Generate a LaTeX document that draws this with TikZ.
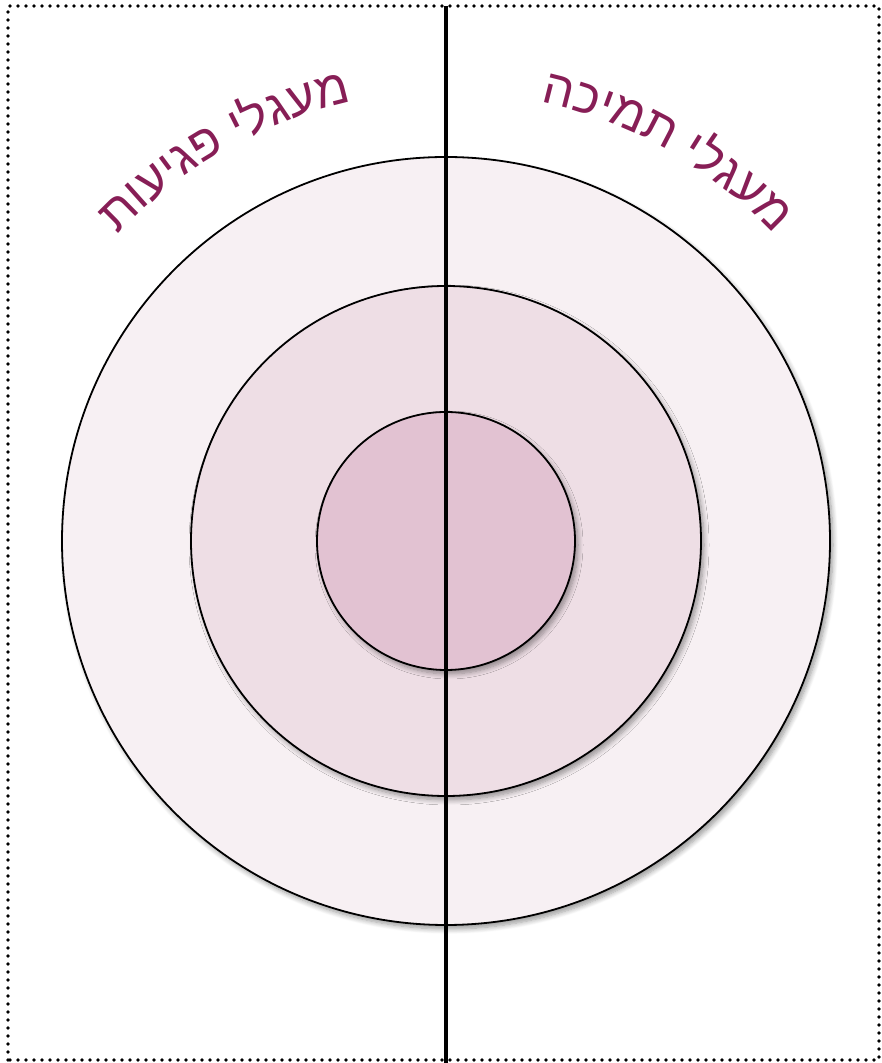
\documentclass[tikz,border=0pt]{standalone}
\usepackage{fontspec}
\newfontfamily\hebfont[Script=Hebrew]{Liberation Sans}
\usetikzlibrary{decorations.text,shadows.blur}
\definecolor{txtc}{RGB}{135,30,86}
\definecolor{cone}{RGB}{247,240,243}
\definecolor{ctwo}{RGB}{238,222,229}
\definecolor{cthree}{RGB}{226,194,210}
\begin{document}
\begin{tikzpicture}[x=1pt,y=1pt,
  ring/.style={circle, draw=black, line width=1.8pt, inner sep=0pt,
    blur shadow={shadow xshift=3pt, shadow yshift=-4pt, shadow blur steps=8, shadow blur radius=5pt, shadow opacity=40}},
  frameline/.style={line width=3.6pt, dash pattern=on 0pt off 8pt, line cap=round},
  divider/.style={line width=3.3pt},
  arctext/.style={decorate, decoration={text along path, text align=center, text color=txtc,
    text={|\hebfont\fontsize{49}{49}\selectfont|#1}}}]
\useasboundingbox (0,0) rectangle (882,1063);
\node[ring, fill=cone, minimum size=768pt] (outer) at (446,522) {};
\node[ring, fill=ctwo, minimum size=510pt] (middle) at (446,522) {};
\node[ring, fill=cthree, minimum size=258pt] (inner) at (446,522) {};
\draw[frameline] (8,3) rectangle (879,1057);
\coordinate (top) at (446,1057);
\coordinate (bot) at (446,-5);
\draw[divider] (top) -- (bot);
\coordinate (c) at (446,522);
\path[arctext={תועיגפ ילגעמ}] (c) ++(157:449) arc[start angle=157, end angle=82, radius=449];
\path[arctext={הכימת ילגעמ}] (c) ++(98:449) arc[start angle=98, end angle=23, radius=449];
\end{tikzpicture}
\end{document}
